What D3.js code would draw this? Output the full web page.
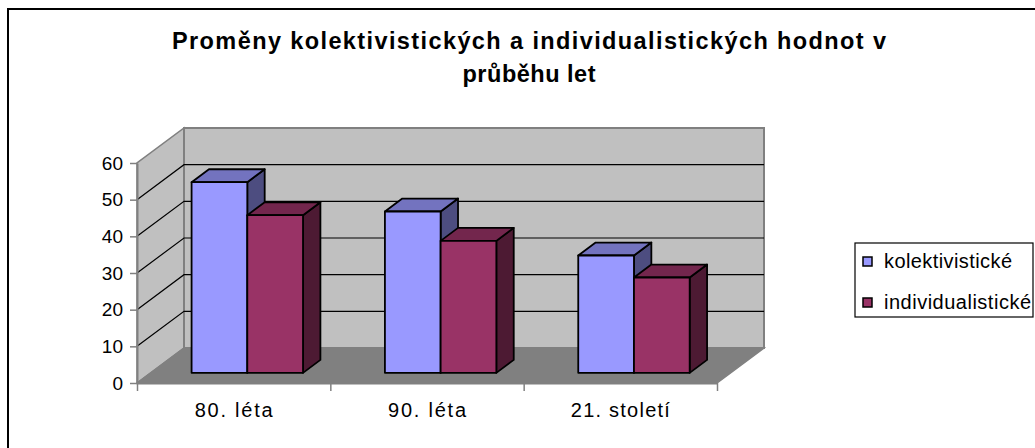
<!DOCTYPE html>
<html><head><meta charset="utf-8">
<script src="https://cdn.jsdelivr.net/npm/d3@7"></script>
<style>html,body{margin:0;padding:0;background:#fff;overflow:hidden}svg{display:block}</style>
</head><body>
<svg id="c" width="1035" height="448"></svg>
<script>
const categories = ["80. léta", "90. léta", "21. století"];
const seriesNames = ["kolektivistické", "individualistické"];
const kolektivisticke = [52, 44, 32];
const individualisticke = [43, 36, 26];
const yTicks = [0, 10, 20, 30, 40, 50, 60];
const titleLines = ["Proměny kolektivistických a individualistických hodnot v", "průběhu let"];

const seriesValues = [kolektivisticke, individualisticke];
const colors = [
  {front: "#9999FF", top: "#7373BF", side: "#4D4D80"},
  {front: "#993366", top: "#73264D", side: "#4D1A33"}
];

const svg = d3.select("#c");
const font = "Liberation Sans, Arial, sans-serif";

// chart area border
svg.append("rect").attr("x", 8).attr("y", 9).attr("width", 1100).attr("height", 500)
  .attr("fill", "#fff").attr("stroke", "#000").attr("stroke-width", 2);

// title
const titleLen = [714, 133];
svg.append("g").selectAll("text").data(titleLines).join("text")
  .attr("x", 529).attr("y", (d, i) => 49 + i * 33)
  .attr("text-anchor", "middle").attr("font-family", font)
  .attr("font-weight", "bold").attr("font-size", 23.5).attr("fill", "#000")
  .attr("textLength", (d, i) => titleLen[i]).attr("lengthAdjust", "spacing")
  .text(d => d);

// 3D geometry
const DX = 47, DY = -35;
const x0 = d3.scaleBand().domain(categories).range([137, 717]);
const y = d3.scaleLinear().domain([0, 60]).range([383, 163]);
const x1 = d3.scaleBand().domain(seriesNames).range([0, x0.bandwidth()]).paddingInner(0).paddingOuter(0.735);
const d0 = 0.29, d1 = 0.66;
const off = d => [DX * d, DY * d];
const line = d3.line();

const xL = x0.range()[0], xR = x0.range()[1];
const yB = y(0), yT = y(60);

// walls
const wallStroke = "#808080";
svg.append("path").attr("d", line([[xL, yB], [xL, yT], [xL + DX, yT + DY], [xL + DX, yB + DY]]) + "Z")
  .attr("fill", "#C0C0C0").attr("stroke", wallStroke).attr("stroke-width", 1.5);
svg.append("path").attr("d", line([[xL + DX, yT + DY], [xR + DX, yT + DY], [xR + DX, yB + DY], [xL + DX, yB + DY]]) + "Z")
  .attr("fill", "#C0C0C0").attr("stroke", wallStroke).attr("stroke-width", 2);
svg.append("path").attr("d", line([[xL, yB], [xL + DX, yB + DY], [xR + DX, yB + DY], [xR, yB]]) + "Z")
  .attr("fill", "#808080").attr("stroke", wallStroke).attr("stroke-width", 1.5);

// gridlines
const gridVals = yTicks.filter(v => v > 0 && v < 60);
const gg = svg.append("g").attr("stroke", "#000").attr("stroke-width", 1.2).attr("fill", "none");
gridVals.forEach(v => {
  gg.append("path").attr("d", line([[xL, y(v)], [xL + DX, y(v) + DY], [xR + DX, y(v) + DY]]));
});

// bars
categories.forEach((c, ci) => {
  seriesNames.forEach((s, si) => {
    const v = seriesValues[si][ci];
    const [ox, oy] = off(d0);
    const [bx, by] = off(d1 - d0);
    const xa = x0(c) + x1(s) + ox, xb = xa + x1.bandwidth();
    const ya = y(v) + oy, yb = y(0) + oy;
    const g = svg.append("g").attr("stroke", "#000").attr("stroke-width", 1.8).attr("stroke-linejoin", "round");
    g.append("path").attr("d", line([[xb, yb], [xb, ya], [xb + bx, ya + by], [xb + bx, yb + by]]) + "Z").attr("fill", colors[si].side);
    g.append("path").attr("d", line([[xa, ya], [xa + bx, ya + by], [xb + bx, ya + by], [xb, ya]]) + "Z").attr("fill", colors[si].top);
    g.append("rect").attr("x", xa).attr("y", ya).attr("width", xb - xa).attr("height", yb - ya).attr("fill", colors[si].front);
  });
});

// y axis
const yAxis = svg.append("g").attr("transform", `translate(${xL},0)`)
  .call(d3.axisLeft(y).tickValues(yTicks).tickSize(7).tickPadding(7).tickSizeOuter(0));
yAxis.select(".domain").attr("stroke", "#808080").attr("stroke-width", 2);
yAxis.selectAll(".tick line").attr("stroke", "#808080").attr("stroke-width", 1.5);
yAxis.selectAll("text").attr("font-family", font).attr("font-size", 19).attr("fill", "#000");

// x axis line + ticks between categories
const xb = d3.scaleLinear().domain([0, categories.length]).range([xL, xR]);
const xAxisT = svg.append("g").attr("transform", `translate(0,${yB})`)
  .call(d3.axisBottom(xb).ticks(categories.length).tickFormat("").tickSize(8).tickSizeOuter(0));
xAxisT.select(".domain").attr("stroke", "#808080").attr("stroke-width", 2);
xAxisT.selectAll(".tick line").attr("stroke", "#808080").attr("stroke-width", 1.5);

const catLen = [78, 78, 99];
const xAxisL = svg.append("g").attr("transform", `translate(0,${yB})`)
  .call(d3.axisBottom(x0).tickSize(0).tickPadding(20));
xAxisL.select(".domain").remove();
xAxisL.selectAll("text").attr("font-family", font).attr("font-size", 20).attr("fill", "#000")
  .attr("textLength", (d, i) => catLen[i]).attr("lengthAdjust", "spacing");

// legend
const legLen = [128, 147];
const lg = svg.append("g");
lg.append("rect").attr("x", 855).attr("y", 243).attr("width", 178).attr("height", 74)
  .attr("fill", "#fff").attr("stroke", "#000").attr("stroke-width", 1.2);
seriesNames.forEach((s, i) => {
  lg.append("rect").attr("x", 863).attr("y", 257 + i * 41).attr("width", 9).attr("height", 9)
    .attr("fill", colors[i].front).attr("stroke", "#000").attr("stroke-width", 1.5);
  lg.append("text").attr("x", 884).attr("y", 268 + i * 41).attr("font-family", font)
    .attr("font-size", 20).attr("fill", "#000")
    .attr("textLength", legLen[i]).attr("lengthAdjust", "spacing").text(s);
});
</script>
</body></html>
